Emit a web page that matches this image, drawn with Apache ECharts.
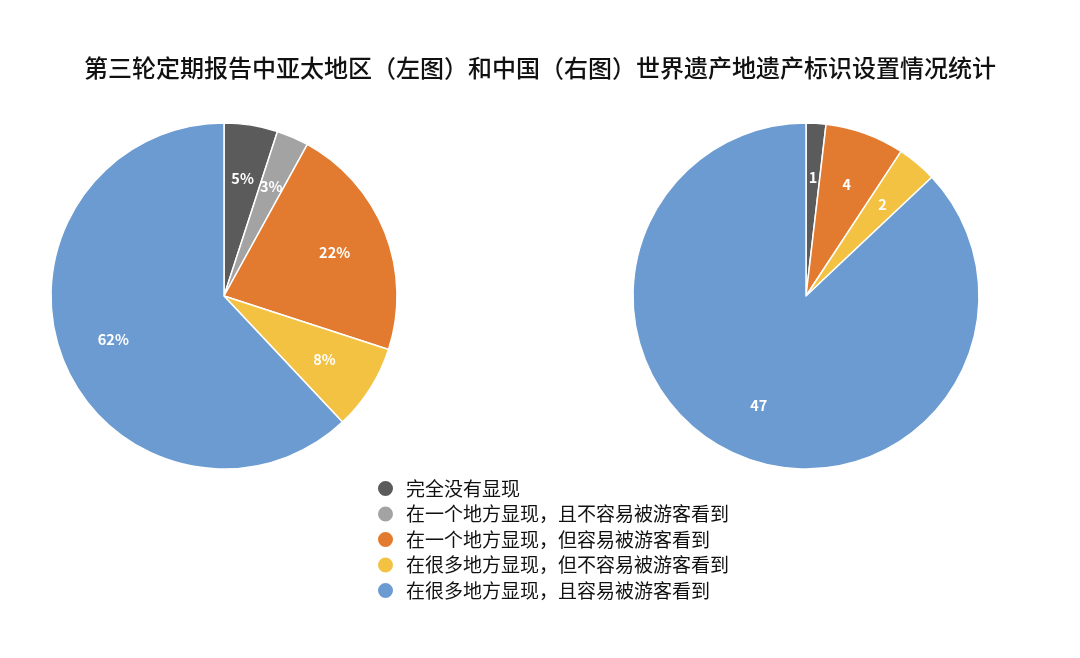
<!DOCTYPE html>
<html>
<head>
<meta charset="utf-8">
<script src="https://cdn.jsdelivr.net/npm/echarts@6/dist/echarts.min.js"></script>
<style>html,body{margin:0;padding:0;background:#fff}#c{width:1080px;height:658px}</style>
</head>
<body>
<div id="c"></div>
<script>
const titleText = '第三轮定期报告中亚太地区（左图）和中国（右图）世界遗产地遗产标识设置情况统计';
const categories = ['完全没有显现', '在一个地方显现，且不容易被游客看到', '在一个地方显现，但容易被游客看到', '在很多地方显现，但不容易被游客看到', '在很多地方显现，且容易被游客看到'];
const asiaPacificPct = [5, 3, 22, 8, 62];
const chinaCounts = [1, 0, 4, 2, 47];
const colors = ['#5b5b5b', '#a3a3a3', '#e27b2f', '#f4c243', '#6b9bd1'];

const FONT = '"Noto Sans CJK SC", "Noto Sans", sans-serif';
const R = 173;
function mk(vals) {
  return categories.map((n, i) => ({
    name: n, value: vals[i],
    itemStyle: vals[i] === 0 ? { borderWidth: 0 } : {}
  }));
}
function pieBase(center, vals) {
  return {
    type: 'pie', center: center, radius: [0, R], startAngle: 90, clockwise: true,
    data: mk(vals), label: { show: false }, labelLine: { show: false },
    itemStyle: { borderColor: '#fff', borderWidth: 1.5 },
    emphasis: { disabled: true }, silent: true
  };
}
function pieLabels(center, vals, suffix) {
  return {
    type: 'pie', center: center, radius: [59, R], startAngle: 90, clockwise: true,
    data: mk(vals), silent: true, legendHoverLink: false,
    itemStyle: { color: 'rgba(0,0,0,0)', borderWidth: 0 },
    emphasis: { disabled: true },
    labelLine: { show: false },
    label: {
      show: true, position: 'inside', color: '#fff', fontWeight: 'bold', fontSize: 14.5,
      fontFamily: FONT,
      formatter: p => p.value === 0 ? '' : p.value + suffix
    }
  };
}
const chart = echarts.init(document.getElementById('c'));
chart.setOption({
  color: colors,
  animation: false,
  title: {
    text: titleText, left: 'center', top: 51,
    textStyle: { fontSize: 24, fontWeight: 500, color: '#111', fontFamily: FONT }
  },
  legend: {
    orient: 'vertical', left: 371, top: 474, itemWidth: 17, itemHeight: 17, itemGap: 6.5,
    icon: 'circle', data: categories, selectedMode: false,
    textStyle: { fontSize: 19, lineHeight: 19, color: '#111', fontFamily: FONT, padding: [0, 0, 0, 7] }
  },
  series: [
    Object.assign(pieBase([224, 296], asiaPacificPct), { name: '亚太地区' }),
    Object.assign(pieBase([806, 296], chinaCounts), { name: '中国' }),
    pieLabels([224, 296], asiaPacificPct, '%'),
    pieLabels([806, 296], chinaCounts, '')
  ]
});
</script>
</body>
</html>
